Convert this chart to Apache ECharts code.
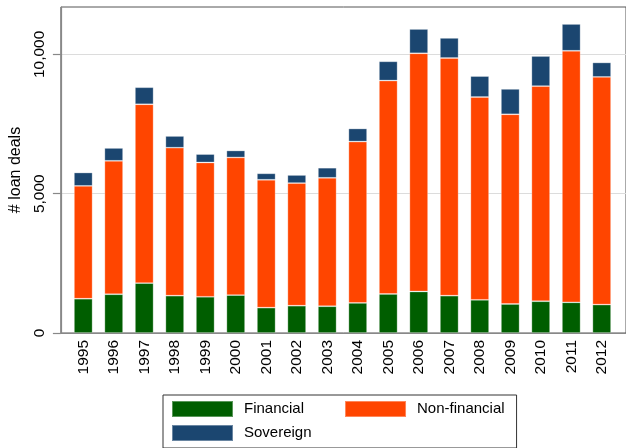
<!DOCTYPE html>
<html>
<head>
<meta charset="utf-8">
<script src="https://cdn.jsdelivr.net/npm/echarts@6/dist/echarts.min.js"></script>
<style>
html,body{margin:0;padding:0;background:#fff;}
#chart{width:626px;height:448px;}
</style>
</head>
<body>
<div id="chart"></div>
<script>
var years = ['1995','1996','1997','1998','1999','2000','2001','2002','2003','2004','2005','2006','2007','2008','2009','2010','2011','2012'];
var financial = [1230,1390,1790,1340,1300,1360,910,980,960,1080,1400,1490,1340,1190,1040,1140,1100,1020];
var nonFinancial = [4050,4790,6420,5310,4820,4940,4590,4400,4610,5790,7660,8550,8530,7280,6810,7720,9030,8170];
var sovereign = [480,460,610,420,300,250,230,290,360,470,690,870,720,750,910,1080,960,520];
var yTicks = [0,5000,10000];
var yMax = 11700;

var FONT = '"Liberation Sans", Arial, sans-serif';
var chart = echarts.init(document.getElementById('chart'), null, {renderer:'canvas'});

function fmt(v){ return String(v).replace(/\B(?=(\d{3})+(?!\d))/g, ','); }

var barBorder = {borderColor:'rgba(255,255,255,0.35)', borderWidth:0.8};

chart.setOption({
  animation:false,
  backgroundColor:'#fff',
  textStyle:{fontFamily:FONT},
  grid:[
    {left:55, right:-4, top:7, bottom:115, show:true, borderColor:'#555', borderWidth:1, backgroundColor:'transparent', containLabel:false},
    {left:68, right:9, top:7, bottom:115, containLabel:false}
  ],
  xAxis:[
    {type:'value', gridIndex:0, min:0, max:1, axisLine:{show:true, lineStyle:{color:'#888', width:1.2}}, axisTick:{show:false}, axisLabel:{show:false}, splitLine:{show:false}},
    {type:'category', gridIndex:1, data:years, boundaryGap:true,
     axisLine:{show:false}, axisTick:{show:false},
     axisLabel:{rotate:90, margin:7, color:'#000', fontSize:15.5, fontFamily:FONT, interval:0}}
  ],
  yAxis:[
    {type:'value', gridIndex:0, min:0, max:yMax,
     name:'# loan deals', nameLocation:'middle', nameRotate:90, nameGap:31,
     nameTextStyle:{color:'#000', fontSize:16, fontFamily:FONT},
     axisLine:{show:true, lineStyle:{color:'#888', width:1.2}},
     axisTick:{show:true, length:8, inside:false, customValues:yTicks, lineStyle:{color:'#888', width:1.2}},
     axisLabel:{rotate:90, margin:13, color:'#000', fontSize:15.5, fontFamily:FONT, customValues:yTicks, formatter:fmt},
     splitLine:{show:true, lineStyle:{color:'#dcdcdc', width:1.2}}
    },
    {type:'value', gridIndex:1, min:0, max:yMax, show:false, splitLine:{show:false}}
  ],
  legend:[
    {data:['Financial','Non-financial'], left:163, top:395, orient:'horizontal',
     padding:[5,12,30,8], itemWidth:61, itemHeight:16, itemGap:40,
     borderColor:'#333', borderWidth:1, icon:'rect', selectedMode:false,
     textStyle:{fontSize:15, color:'#000', fontFamily:FONT, padding:[0,0,0,6]}},
    {data:['Sovereign'], left:171, top:424, orient:'horizontal', padding:0,
     itemWidth:61, itemHeight:16, icon:'rect', selectedMode:false,
     textStyle:{fontSize:15, color:'#000', fontFamily:FONT, padding:[0,0,0,6]}}
  ],
  series:[
    {name:'Financial', type:'bar', stack:'total', xAxisIndex:1, yAxisIndex:1, data:financial, barCategoryGap:'39%',
     itemStyle:Object.assign({color:'#005e00'}, barBorder)},
    {name:'Non-financial', type:'bar', stack:'total', xAxisIndex:1, yAxisIndex:1, data:nonFinancial, barCategoryGap:'39%',
     itemStyle:Object.assign({color:'#ff4500'}, barBorder)},
    {name:'Sovereign', type:'bar', stack:'total', xAxisIndex:1, yAxisIndex:1, data:sovereign, barCategoryGap:'39%',
     itemStyle:Object.assign({color:'#1b4670'}, barBorder)}
  ]
});
</script>
</body>
</html>
